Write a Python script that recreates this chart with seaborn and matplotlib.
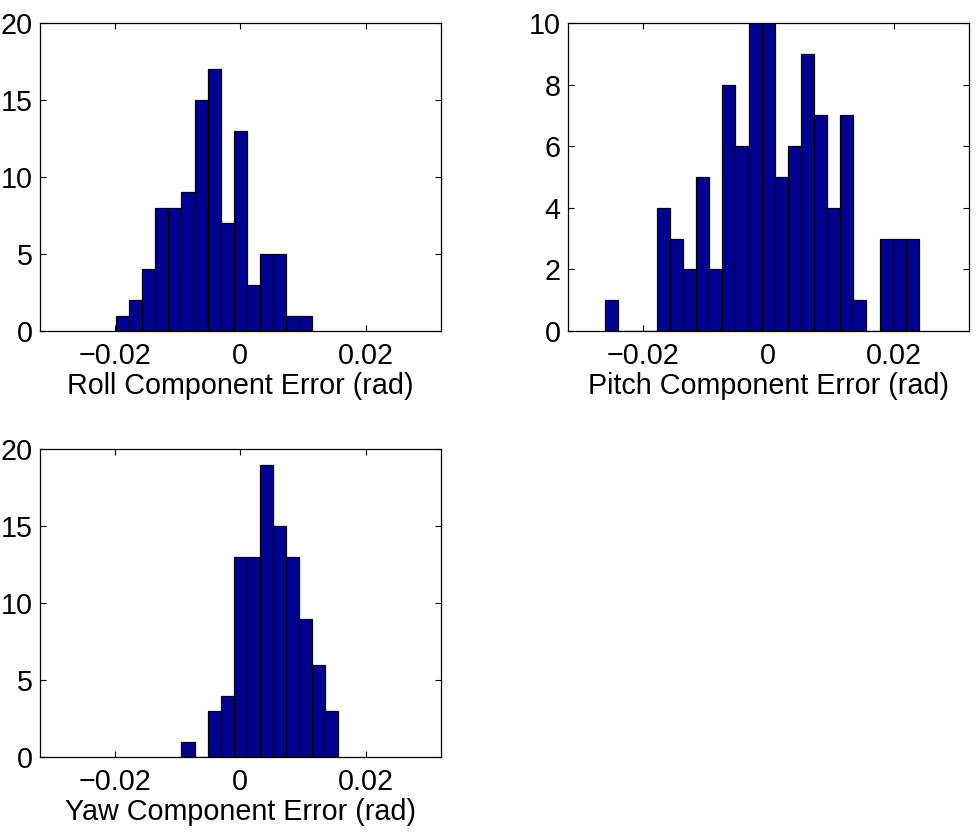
import numpy as np
import pandas as pd
import matplotlib
matplotlib.use("Agg")
import matplotlib.pyplot as plt
import seaborn as sns

# bin width (rad) and bin indices, counts
bin_width = 0.00209

roll_bins = [-9, -8, -7, -6, -5, -4, -3, -2, -1, 0, 1, 2, 3, 4, 5]
roll_counts = [1, 2, 4, 8, 8, 9, 15, 17, 7, 13, 3, 5, 5, 1, 1]

pitch_bins = [-12, -11, -10, -9, -8, -7, -6, -5, -4, -3, -2, -1, 0,
              1, 2, 3, 4, 5, 6, 7, 8, 9, 10, 11]
pitch_counts = [1, 0, 0, 0, 4, 3, 2, 5, 2, 8, 6, 10, 10,
                5, 6, 9, 7, 4, 7, 1, 0, 3, 3, 3]

yaw_bins = [-4, -3, -2, -1, 0, 1, 2, 3, 4, 5, 6, 7]
yaw_counts = [1, 0, 3, 4, 13, 13, 19, 15, 13, 9, 6, 3]

xlabels = ["Roll Component Error (rad)", "Pitch Component Error (rad)",
           "Yaw Component Error (rad)"]
xtick_vals = [-0.02, 0, 0.02]
xtick_text = ["\u22120.02", "0", "0.02"]

sns.set_style("white")
plt.rcParams["font.family"] = ["Liberation Sans", "DejaVu Sans"]
plt.rcParams["text.color"] = "black"
plt.rcParams["axes.labelcolor"] = "black"
plt.rcParams["xtick.color"] = "black"
plt.rcParams["ytick.color"] = "black"

fig = plt.figure(figsize=(9.78, 8.34), dpi=100)
ax1 = fig.add_axes([0.0409, 0.6031, 0.4097, 0.3693])
ax2 = fig.add_axes([0.5805, 0.6031, 0.4100, 0.3693])
ax3 = fig.add_axes([0.0409, 0.0920, 0.4097, 0.3693])

panels = [
    (ax1, roll_bins, roll_counts, [0, 5, 10, 15, 20]),
    (ax2, pitch_bins, pitch_counts, [0, 2, 4, 6, 8, 10]),
    (ax3, yaw_bins, yaw_counts, [0, 5, 10, 15, 20]),
]

fs = 20.7
for (ax, bins, counts, yt), lab in zip(panels, xlabels):
    df = pd.DataFrame({"err": np.array(bins) * bin_width, "n": counts})
    edges = list(np.append(df["err"] - bin_width / 2, df["err"].iloc[-1] + bin_width / 2))
    sns.histplot(data=df, x="err", weights="n", bins=edges, ax=ax,
                 color="#00008f", edgecolor="black", linewidth=0.9, alpha=1)
    ax.set_xlim(-0.032, 0.032)
    ax.set_ylim(0, yt[-1])
    ax.set_yticks(yt)
    ax.set_xticks(xtick_vals)
    ax.set_xticklabels(xtick_text)
    ax.set_ylabel("")
    ax.set_xlabel(lab, fontsize=fs, labelpad=1, color="black")
    ax.tick_params(direction="in", length=4, width=0.8, labelsize=fs,
                   colors="black",
                   top=True, right=True, bottom=True, left=True)
    ax.tick_params(axis="x", pad=8)
    ax.tick_params(axis="y", pad=5)
    for s in ax.spines.values():
        s.set_visible(True)
        s.set_color("black")
        s.set_linewidth(0.9)

fig.savefig("out.png", dpi=100, facecolor="white")
